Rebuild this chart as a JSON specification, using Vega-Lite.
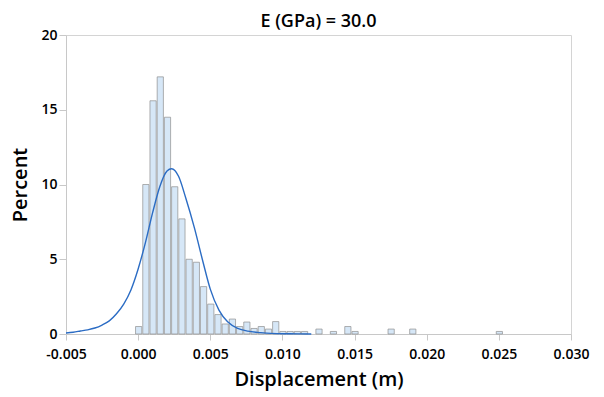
{
  "$schema": "https://vega.github.io/schema/vega-lite/v6.json",
  "width": 505,
  "height": 299,
  "autosize": "none",
  "padding": {"left": 66, "top": 35, "right": 33, "bottom": 63},
  "background": "white",
  "config": {
    "font": "Open Sans",
    "view": {"stroke": "#d4d4d4", "strokeWidth": 1},
    "axis": {
      "grid": false,
      "domainColor": "#c8c8c8",
      "tickColor": "#c8c8c8",
      "labelColor": "#000000",
      "titleColor": "#000000",
      "labelFont": "Open Sans",
      "titleFont": "Open Sans"
    }
  },
  "title": {
    "text": "E (GPa) = 30.0",
    "fontSize": 18,
    "fontWeight": 600,
    "font": "Open Sans",
    "color": "#000000",
    "anchor": "middle",
    "offset": -3
  },
  "datasets": {
    "bars": [
      {"lo": -0.00025, "hi": 0.00025, "pct": 0.5},
      {"lo": 0.00025, "hi": 0.00075, "pct": 10.0},
      {"lo": 0.00075, "hi": 0.00125, "pct": 15.6},
      {"lo": 0.00125, "hi": 0.00175, "pct": 17.2},
      {"lo": 0.00175, "hi": 0.00225, "pct": 14.5},
      {"lo": 0.00225, "hi": 0.00275, "pct": 9.85},
      {"lo": 0.00275, "hi": 0.00325, "pct": 7.7},
      {"lo": 0.00325, "hi": 0.00375, "pct": 5.0},
      {"lo": 0.00375, "hi": 0.00425, "pct": 4.8},
      {"lo": 0.00425, "hi": 0.00475, "pct": 3.17},
      {"lo": 0.00475, "hi": 0.00525, "pct": 2.0},
      {"lo": 0.00525, "hi": 0.00575, "pct": 1.3},
      {"lo": 0.00575, "hi": 0.00625, "pct": 0.67},
      {"lo": 0.00625, "hi": 0.00675, "pct": 1.0},
      {"lo": 0.00675, "hi": 0.00725, "pct": 0.5},
      {"lo": 0.00725, "hi": 0.00775, "pct": 0.8},
      {"lo": 0.00775, "hi": 0.00825, "pct": 0.37},
      {"lo": 0.00825, "hi": 0.00875, "pct": 0.5},
      {"lo": 0.00875, "hi": 0.00925, "pct": 0.33},
      {"lo": 0.00925, "hi": 0.00975, "pct": 0.83},
      {"lo": 0.00975, "hi": 0.01025, "pct": 0.17},
      {"lo": 0.01025, "hi": 0.01075, "pct": 0.17},
      {"lo": 0.01075, "hi": 0.01125, "pct": 0.17},
      {"lo": 0.01125, "hi": 0.01175, "pct": 0.17},
      {"lo": 0.01225, "hi": 0.01275, "pct": 0.33},
      {"lo": 0.01325, "hi": 0.01375, "pct": 0.17},
      {"lo": 0.01425, "hi": 0.01475, "pct": 0.5},
      {"lo": 0.01475, "hi": 0.01525, "pct": 0.17},
      {"lo": 0.01725, "hi": 0.01775, "pct": 0.33},
      {"lo": 0.01875, "hi": 0.01925, "pct": 0.33},
      {"lo": 0.02475, "hi": 0.02525, "pct": 0.17}
    ],
    "curve": [
      {"x": -0.005, "y": 0.07},
      {"x": -0.0045, "y": 0.12},
      {"x": -0.004, "y": 0.2},
      {"x": -0.0035, "y": 0.28},
      {"x": -0.003, "y": 0.4},
      {"x": -0.0025, "y": 0.6},
      {"x": -0.002, "y": 0.88},
      {"x": -0.0015, "y": 1.35},
      {"x": -0.001, "y": 2.0},
      {"x": -0.0005, "y": 2.95},
      {"x": 0.0, "y": 4.35},
      {"x": 0.0005, "y": 6.1},
      {"x": 0.001, "y": 8.1},
      {"x": 0.0015, "y": 9.85},
      {"x": 0.002, "y": 10.9},
      {"x": 0.00232, "y": 11.05},
      {"x": 0.0028, "y": 10.55},
      {"x": 0.0033, "y": 9.1},
      {"x": 0.0039, "y": 7.1},
      {"x": 0.0045, "y": 4.8},
      {"x": 0.005, "y": 3.0},
      {"x": 0.0056, "y": 1.6},
      {"x": 0.0062, "y": 0.82},
      {"x": 0.0069, "y": 0.38},
      {"x": 0.0076, "y": 0.19},
      {"x": 0.0085, "y": 0.09},
      {"x": 0.0092, "y": 0.04},
      {"x": 0.0105, "y": 0.015},
      {"x": 0.012, "y": 0.0}
    ]
  },
  "layer": [
    {
      "data": {"name": "bars"},
      "mark": {"type": "bar", "fill": "#d6e7f7", "stroke": "#8f8f8f", "strokeWidth": 0.7},
      "encoding": {
        "x": {
          "field": "lo",
          "type": "quantitative",
          "bin": "binned",
          "scale": {"domain": [-0.005, 0.03], "nice": false},
          "axis": {
            "values": [-0.005, 0, 0.005, 0.01, 0.015, 0.02, 0.025, 0.03],
            "labelExpr": "replace(format(datum.value, '.3f'), '\u2212', '-')",
            "labelFlush": false,
            "labelOverlap": false,
            "title": "Displacement (m)",
            "labelFontSize": 14,
            "labelFontWeight": 600,
            "labelPadding": 7,
            "tickSize": 6,
            "titleFontSize": 20,
            "titleFontWeight": 600,
            "titlePadding": 8
          }
        },
        "x2": {"field": "hi"},
        "y": {
          "field": "pct",
          "type": "quantitative",
          "scale": {"domain": [0, 20], "nice": false},
          "axis": {
            "values": [0, 5, 10, 15, 20],
            "title": "Percent",
            "labelFontSize": 14,
            "labelFontWeight": 600,
            "labelPadding": 2,
            "tickSize": 7,
            "titleFontSize": 20,
            "titleFontWeight": 600,
            "titlePadding": 10
          }
        }
      }
    },
    {
      "data": {"name": "curve"},
      "mark": {"type": "line", "color": "#2b6cc4", "strokeWidth": 1.4, "interpolate": "monotone"},
      "encoding": {
        "x": {"field": "x", "type": "quantitative"},
        "y": {"field": "y", "type": "quantitative"}
      }
    }
  ]
}
